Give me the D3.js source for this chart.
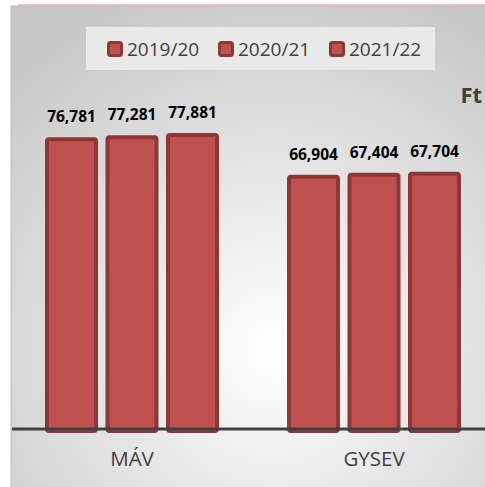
<!DOCTYPE html>
<html>
<head>
<meta charset="utf-8">
<script src="https://cdn.jsdelivr.net/npm/d3@7"></script>
<style>
  body { margin: 0; background: #fff; }
  svg { display: block; }
</style>
</head>
<body>
<script>
// data
const categories = ['MÁV', 'GYSEV'];
const seasons = ['2019/20', '2020/21', '2021/22'];
const mavValues = [76781, 77281, 77881];
const gysevValues = [66904, 67404, 67704];
const unitLabel = 'Ft';

const rows = [
  { cat: 'MÁV', values: mavValues },
  { cat: 'GYSEV', values: gysevValues },
];

const dim = { width: 485, height: 487 };
const svg = d3.select('body').append('svg').attr('width', dim.width).attr('height', dim.height);
const font = "'Open Sans', sans-serif";

// background panel with soft radial gradient
const defs = svg.append('defs');
const grad = defs.append('radialGradient').attr('id', 'bg')
  .attr('cx', '0.55').attr('cy', '0.7').attr('r', '0.8');
grad.append('stop').attr('offset', '0').attr('stop-color', '#ffffff');
grad.append('stop').attr('offset', '1').attr('stop-color', '#c6c6c6');

svg.append('line').attr('x1', 18).attr('x2', 485).attr('y1', 5).attr('y2', 5)
  .attr('stroke', '#f2c4c4').attr('stroke-width', 2);
svg.append('rect').attr('x', 11).attr('y', 6).attr('width', 480).attr('height', 490)
  .attr('fill', 'url(#bg)').attr('stroke', '#bdbdbd').attr('stroke-width', 1);

// legend box
svg.append('rect').attr('x', 86).attr('y', 27).attr('width', 349).attr('height', 43)
  .attr('fill', '#e9e9e9');

// scales
const baseY = 429;
const y = d3.scaleLinear().domain([0, 90000]).range([baseY, baseY - 342]);
const x0 = d3.scaleBand().domain(categories).range([11, 495])
  .paddingInner(0.281).paddingOuter(0.1405);
const x1 = d3.scaleBand().domain(seasons).range([0, x0.bandwidth()])
  .paddingInner(0.124).paddingOuter(0);

const groups = svg.selectAll('g.grp').data(rows).enter().append('g')
  .attr('class', 'grp')
  .attr('transform', (d) => `translate(${x0(d.cat)},0)`);

const bars = groups.selectAll('g.bar')
  .data((d) => d.values.map((v, i) => ({ season: seasons[i], value: v })))
  .enter().append('g').attr('class', 'bar');

bars.append('rect')
  .attr('x', (d) => x1(d.season) + 2)
  .attr('y', (d) => y(d.value) + 2)
  .attr('width', x1.bandwidth() - 4)
  .attr('height', (d) => baseY - y(d.value))
  .attr('rx', 2)
  .attr('fill', '#c0504d')
  .attr('stroke', '#8c3836')
  .attr('stroke-width', 4);

bars.append('text')
  .attr('x', (d) => x1(d.season) + x1.bandwidth() / 2)
  .attr('y', (d) => y(d.value) - 15)
  .attr('text-anchor', 'middle')
  .style('font-family', font).style('font-weight', 'bold').style('font-size', '15.5px')
  .attr('fill', '#000')
  .text((d) => d3.format(',')(d.value));

// x axis line and category labels
const axisX = d3.axisBottom(x0).tickSize(0).tickPadding(22);
const gx = svg.append('g').attr('transform', `translate(0,${baseY})`).call(axisX);
gx.select('.domain').attr('d', 'M12,0H485').attr('stroke', '#404040').attr('stroke-width', 3);
gx.selectAll('text').style('font-family', font).style('font-size', '20.5px').attr('fill', '#404040');

// unit label (kept fully inside the frame)
svg.append('text').attr('x', 482).attr('y', 103).attr('text-anchor', 'end')
  .style('font-family', font).style('font-weight', 'bold').style('font-size', '22px')
  .attr('fill', '#404040').text(unitLabel);

// legend
const legX = [107, 218, 329];
const leg = svg.selectAll('g.leg').data(seasons).enter().append('g').attr('class', 'leg')
  .attr('transform', (d, i) => `translate(${legX[i]},41)`);
leg.append('rect').attr('x', 1.5).attr('y', 1.5).attr('width', 13).attr('height', 13).attr('rx', 2)
  .attr('fill', '#c0504d').attr('stroke', '#8c3836').attr('stroke-width', 3);
leg.append('text').attr('x', 20).attr('y', 15)
  .style('font-family', font).style('font-size', '19px').attr('fill', '#404040')
  .text((d) => d);
</script>
</body>
</html>
